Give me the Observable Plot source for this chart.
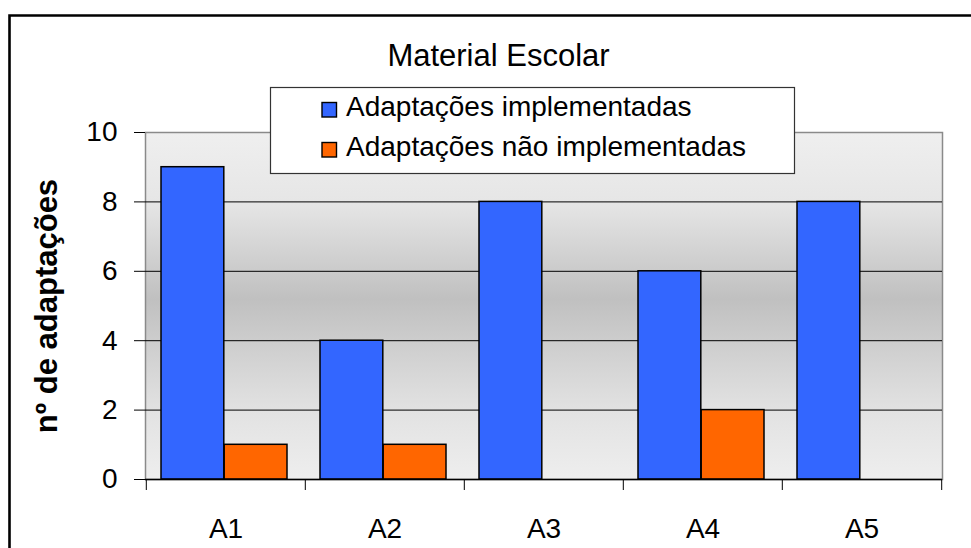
<!DOCTYPE html>
<html><head><meta charset="utf-8">
<script src="https://cdn.jsdelivr.net/npm/d3@7"></script>
<script src="https://cdn.jsdelivr.net/npm/@observablehq/plot@0.6"></script>
<style>body{margin:0;background:#fff;} #chart{width:971px;height:548px;overflow:hidden;}</style>
</head><body><div id="chart"></div>
<script>
const categories = ["A1", "A2", "A3", "A4", "A5"];
const series = ["Adaptações implementadas", "Adaptações não implementadas"];
const implementadas = [9, 4, 8, 6, 8];
const naoImplementadas = [1, 1, 0, 2, 0];
const yTicks = [0, 2, 4, 6, 8, 10];
const gridValues = [2, 4, 6, 8];
const seriesColors = ["#3366FF", "#FF6600"];
const title = "Material Escolar";
const yLabel = "nº de adaptações";

const W = 971, H = 548, mL = 145, mR = 29, mT = 132, mB = 69;
const bw = (W - mL - mR) / categories.length;
const pad = 15, barW = (bw - 2 * pad - 3) / 2;
const font = "'Liberation Sans', Arial, Helvetica, sans-serif";

const data = categories.flatMap((c, i) => [
  {cat: c, series: series[0], value: implementadas[i], k: 0},
  {cat: c, series: series[1], value: naoImplementadas[i], k: 1}
]);

const gradient = () => {
  const defs = d3.create("svg:defs");
  const g = defs.append("linearGradient").attr("id", "bg")
    .attr("x1", 0).attr("y1", 0).attr("x2", 0).attr("y2", 1);
  g.append("stop").attr("offset", "0%").attr("stop-color", "#efefef");
  g.append("stop").attr("offset", "20%").attr("stop-color", "#e6e6e6");
  g.append("stop").attr("offset", "48%").attr("stop-color", "#c0c0c0");
  g.append("stop").attr("offset", "80%").attr("stop-color", "#e2e2e2");
  g.append("stop").attr("offset", "100%").attr("stop-color", "#eeeeee");
  return defs.node();
};

const plot = Plot.plot({
  width: W, height: H,
  marginLeft: mL, marginRight: mR, marginTop: mT, marginBottom: mB,
  style: {fontFamily: font, background: "transparent", overflow: "visible", color: "#000"},
  x: {domain: categories, padding: 0},
  y: {domain: [0, 10]},
  color: {domain: series, range: seriesColors},
  marks: [
    gradient,
    Plot.frame({fill: "url(#bg)", stroke: "#8a8a8a", strokeWidth: 1.5}),
    Plot.ruleY(gridValues, {stroke: "#000", strokeWidth: 1}),
    Plot.barY(data.filter(d => d.k === 0 && d.value > 0), {
      x: "cat", y: "value", fill: "series", stroke: "#000", strokeWidth: 1.5,
      insetLeft: pad, insetRight: bw - pad - barW
    }),
    Plot.barY(data.filter(d => d.k === 1 && d.value > 0), {
      x: "cat", y: "value", fill: "series", stroke: "#000", strokeWidth: 1.5,
      insetLeft: pad + barW, insetRight: bw - pad - 2 * barW
    }),
    Plot.ruleY([0], {stroke: "#000", strokeWidth: 1.5}),
    Plot.axisY({ticks: yTicks, tickSize: 11, tickPadding: 17, fontSize: 28, label: null, stroke: "#000"}),
    Plot.axisX({ticks: categories, tickSize: 0, tickPadding: 39, fontSize: 28, label: null}),
    Plot.axisX({ticks: categories, tickSize: 11, tickFormat: () => "", label: null, dx: -bw / 2, stroke: "#000"}),
    Plot.axisX({ticks: categories.slice(-1), tickSize: 11, tickFormat: () => "", label: null, dx: bw / 2, stroke: "#000"}),
    Plot.text([yLabel], {text: d => d, frameAnchor: "left", textAnchor: "middle", rotate: -90, dx: -98, fontSize: 31, fontWeight: "bold"})
  ]
});

const svg = d3.select(plot);
// outer chart border (extends beyond the picture to the right and bottom)
svg.append("path").attr("d", "M9.5,2000V15.5H2000").attr("fill", "none").attr("stroke", "#000").attr("stroke-width", 2.6);
// title
svg.append("text").attr("x", 498.5).attr("y", 66).attr("text-anchor", "middle")
  .attr("font-size", 31).attr("font-family", font).attr("fill", "#000").text(title);
// legend
const color = plot.scale("color");
const lg = svg.append("g").attr("text-anchor", "start");
lg.append("rect").attr("x", 270.5).attr("y", 87.5).attr("width", 524).attr("height", 86)
  .attr("fill", "#fff").attr("stroke", "#333").attr("stroke-width", 1.2);
series.forEach((s, i) => {
  const y0 = 116 + i * 40;
  lg.append("rect").attr("x", 322).attr("y", y0 - 13.5).attr("width", 14.5).attr("height", 14.5)
    .attr("fill", color.apply(s)).attr("stroke", "#000").attr("stroke-width", 1.4);
  lg.append("text").attr("x", 346).attr("y", y0).attr("text-anchor", "start").attr("font-size", 28).attr("font-family", font)
    .attr("fill", "#000").text(s);
});

document.getElementById("chart").append(plot);
</script>
</body></html>
